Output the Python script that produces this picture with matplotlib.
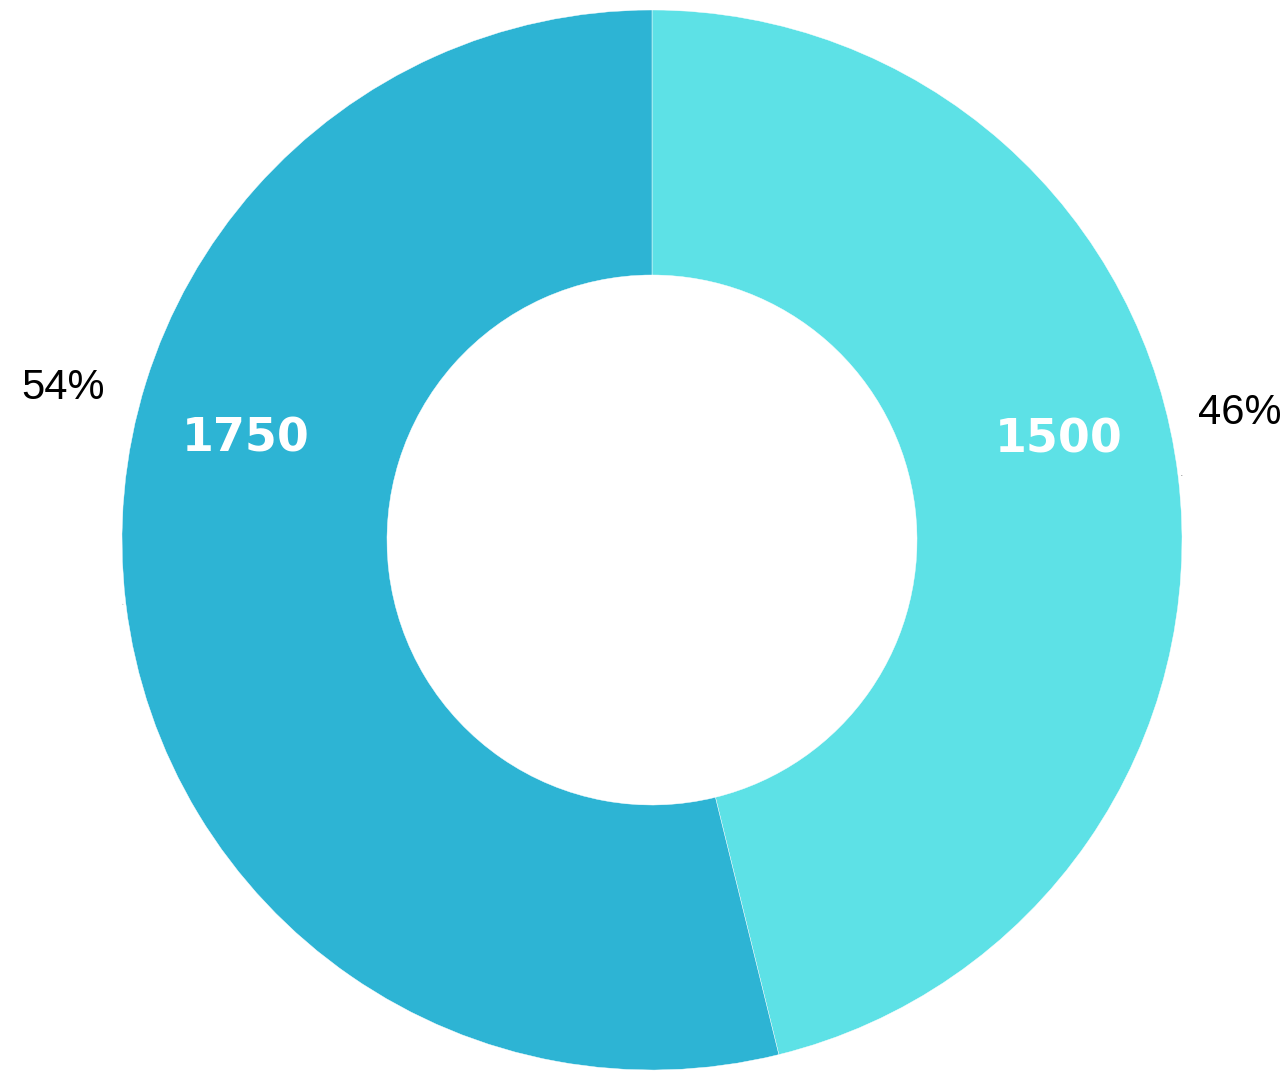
import matplotlib.pyplot as plt
import numpy as np

names = ['B', 'A']
values = [1500, 1750]
colors = ['#5de1e6', '#2db4d4']
pcts = ['46%', '54%']

W, H = 1287, 1075
fig = plt.figure(figsize=(W / 100, H / 100), dpi=100)
ax = fig.add_axes([0, 0, 1, 1])
ax.set_xlim(0, W)
ax.set_ylim(0, H)
ax.set_aspect('equal')
ax.axis('off')

cx, cy = 652, H - 540
R = 530

wedges, _ = ax.pie(values, colors=colors, startangle=90, counterclock=False,
                   center=(cx, cy), radius=R, frame=True,
                   wedgeprops=dict(width=R * 0.5, edgecolor='white', linewidth=0.3))
ax.set_xlim(0, W)
ax.set_ylim(0, H)
ax.axis('off')

# label angles (deg) for each slice
value_ang = [13.8, 166.0]
pct_ang = [12.2, 165.5]
pct_dist = [601, 608]

for i, w in enumerate(wedges):
    mid = np.deg2rad((w.theta1 + w.theta2) / 2)
    a = np.deg2rad(value_ang[i])
    ax.text(cx + 0.79 * R * np.cos(a), cy + 0.79 * R * np.sin(a), str(values[i]),
            ha='center', va='center', color='white', fontsize=33,
            fontweight='bold', family='DejaVu Sans')
    a = np.deg2rad(pct_ang[i])
    ax.text(cx + pct_dist[i] * np.cos(a), cy + pct_dist[i] * np.sin(a), pcts[i],
            ha='center', va='center', color='black', fontsize=30,
            family='Liberation Sans')
    ax.text(cx + 1.005 * R * np.cos(mid), cy + 1.005 * R * np.sin(mid), names[i],
            ha='left' if np.cos(mid) > 0 else 'right', va='center',
            color='#555555', fontsize=1.5)

fig.savefig('out.png', dpi=100)
